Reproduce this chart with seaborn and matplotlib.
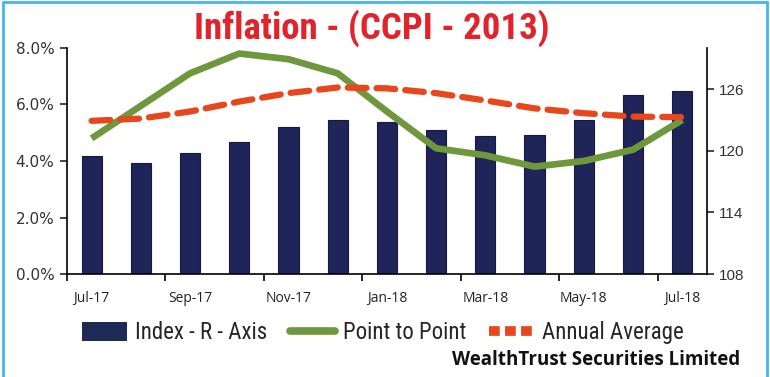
import numpy as np
import matplotlib
matplotlib.use('Agg')
import matplotlib.pyplot as plt
import seaborn as sns
from matplotlib.patches import Patch
from matplotlib.lines import Line2D

# data
months = ['Jul-17', 'Aug-17', 'Sep-17', 'Oct-17', 'Nov-17', 'Dec-17', 'Jan-18',
          'Feb-18', 'Mar-18', 'Apr-18', 'May-18', 'Jun-18', 'Jul-18']
index_vals = [119.5, 118.8, 119.8, 120.8, 122.3, 123.0, 122.8,
              122.0, 121.4, 121.5, 123.0, 125.4, 125.8]
point_to_point = [4.8, 5.95, 7.1, 7.8, 7.6, 7.1, 5.75, 4.45, 4.2, 3.8, 4.0, 4.4, 5.45]
annual_avg = [5.42, 5.5, 5.75, 6.1, 6.4, 6.6, 6.57, 6.4, 6.14, 5.86, 5.69, 5.57, 5.55]
label_months = months[::2]

navy = '#1f2459'
green = '#6f973b'
orange = '#e8471e'
narrow = ['Roboto Condensed', 'Archivo Narrow', 'Barlow Condensed', 'DejaVu Sans']

sns.set_style("ticks")
plt.rcParams['font.family'] = ['DejaVu Sans']

fig = plt.figure(figsize=(7.7, 3.77), dpi=100)
ax1 = fig.add_axes([0.087, 0.273, 0.831, 0.6])
ax2 = ax1.twinx()

# bars on the right axis
sns.barplot(x=months, y=index_vals, ax=ax2, color=navy, width=0.41,
            edgecolor='#161a40', linewidth=0.8, saturation=1)
ax2.set_ylim(108, 130)
ax2.set_yticks([108, 114, 120, 126])
ax2.set_ylabel('')

# lines on the left axis
xpos = np.arange(len(months))
sns.lineplot(x=xpos, y=point_to_point, ax=ax1, color=green, lw=4.8,
             solid_capstyle='butt')
sns.lineplot(x=xpos, y=annual_avg, ax=ax1, color=orange, lw=4.5)
ax1.lines[-1].set_dashes((3.0, 1.6))
ax1.lines[-1].set_dash_capstyle('round')

ax1.set_zorder(ax2.get_zorder() + 1)
ax1.patch.set_visible(False)

ax1.set_ylim(0, 8)
ax1.set_yticks([0, 2, 4, 6, 8])
ax1.set_yticklabels([f'{v:.1f}%' for v in [0, 2, 4, 6, 8]])
ax1.set_xlim(-0.5, len(months) - 0.5)
ax1.set_xticks(xpos[::2])
ax1.set_xticklabels(label_months)
ax1.set_xticks(np.arange(-0.5, len(months) - 1, 2), minor=True)
ax1.tick_params(axis='x', which='major', length=0, pad=12, labelsize=10,
                labelcolor='#222222')
ax1.tick_params(axis='x', which='minor', length=5, width=1.2, direction='out', color='black')
for lab in ax1.get_xticklabels():
    lab.set_fontfamily('Open Sans')
ax1.tick_params(axis='y', length=5, width=1.2, labelsize=11, labelcolor='#333333', pad=4)
ax2.tick_params(axis='y', length=5, width=1.2, labelsize=11, labelcolor='#333333', pad=4)
for lab in ax2.get_yticklabels():
    lab.set_fontfamily('Liberation Sans')
ax1.set_xlabel('')
ax1.set_ylabel('')

for ax in (ax1, ax2):
    ax.spines['top'].set_visible(False)
    for s in ax.spines.values():
        s.set_linewidth(1.2)
        s.set_color('black')
ax1.spines['right'].set_visible(False)
ax2.spines['left'].set_visible(False)
ax2.spines['bottom'].set_visible(False)

# title
fig.text(0.483, 0.925, 'Inflation - (CCPI - 2013)', ha='center', va='center',
         fontsize=26.5, fontweight='bold', color='#e1232b', family=narrow)

# legend
handles = [Patch(facecolor='#1c2a55', edgecolor='none'),
           Line2D([0], [0], color=green, lw=5.5),
           Line2D([0], [0], color=orange, lw=7, dashes=(1.1, 0.55))]
labels = ['Index - R - Axis', 'Point to Point', 'Annual Average']
fig.legend(handles, labels, loc='center', bbox_to_anchor=(0.497, 0.117), ncol=3,
           frameon=False, handlelength=1.95, handleheight=0.9, columnspacing=1.0,
           handletextpad=0.35, prop={'family': narrow, 'size': 16.5})

# footer
fig.text(0.961, 0.045, 'WealthTrust Securities Limited', ha='right', va='center',
         fontsize=13.5, fontweight='bold', color='#111111', family='Open Sans')

# light blue frame
for xs, ys in [([0.004, 0.004], [0, 0.996]), ([0.004, 0.996], [0.996, 0.996]),
               ([0.996, 0.996], [0, 0.996])]:
    fig.add_artist(Line2D(xs, ys, transform=fig.transFigure, color='#45b7e6', lw=2))

fig.savefig('out.png', dpi=100)
